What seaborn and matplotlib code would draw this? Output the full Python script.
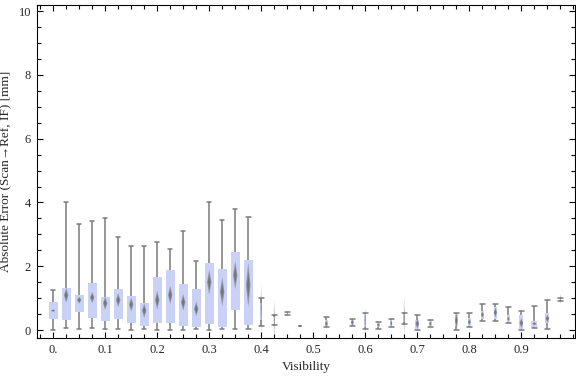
import numpy as np
import matplotlib
matplotlib.use("Agg")
import matplotlib.pyplot as plt
import seaborn as sns
from matplotlib.ticker import MultipleLocator, FixedLocator

# one entry per visibility bin (bins that show a box)
visibility = [0.0, 0.025, 0.05, 0.075, 0.1, 0.125, 0.15, 0.175, 0.2, 0.225,
              0.25, 0.275, 0.3, 0.325, 0.35, 0.375, 0.4, 0.425, 0.45, 0.475,
              0.525, 0.575, 0.6, 0.625, 0.65, 0.675, 0.7, 0.725, 0.775, 0.8,
              0.825, 0.85, 0.875, 0.9, 0.925, 0.95, 0.975]
w_low = [0.0, 0.05, 0.02, 0.05, 0.02, 0.02, 0.0, 0.02, 0.0, 0.0,
         0.0, 0.02, 0.0, 0.02, 0.02, 0.02, 0.12, 0.15, 0.48, 0.125,
         0.08, 0.13, 0.02, 0.03, 0.08, 0.19, 0.0, 0.10, 0.0, 0.08,
         0.27, 0.27, 0.21, 0.0, 0.06, 0.04, 0.91]
q_low = [0.36, 0.32, 0.57, 0.39, 0.29, 0.36, 0.23, 0.14, 0.23, 0.23,
         0.14, 0.08, 0.20, 0.10, 0.64, 0.17, 0.30, 0.20, 0.51, 0.125,
         0.08, 0.15, 0.10, 0.08, 0.10, 0.25, 0.0, 0.10, 0.13, 0.12,
         0.35, 0.35, 0.24, 0.04, 0.10, 0.21, 0.93]
median = [0.61, 1.09, 0.94, 1.02, 0.84, 0.94, 0.80, 0.61, 0.94, 1.10,
          0.87, 0.66, 1.50, 1.20, 1.72, 1.41, 0.68, 0.31, 0.53, 0.125,
          0.20, 0.24, 0.31, 0.16, 0.21, 0.40, 0.20, 0.20, 0.30, 0.25,
          0.48, 0.55, 0.35, 0.22, 0.20, 0.36, 0.97]
q_high = [0.88, 1.32, 1.10, 1.47, 1.03, 1.28, 1.07, 0.85, 1.66, 1.88,
          1.44, 1.28, 2.10, 1.91, 2.45, 2.19, 0.85, 0.40, 0.55, 0.125,
          0.33, 0.33, 0.50, 0.24, 0.32, 0.50, 0.31, 0.31, 0.49, 0.37,
          0.61, 0.73, 0.47, 0.46, 0.27, 0.55, 0.99]
w_high = [1.24, 4.02, 3.34, 3.41, 3.50, 2.91, 2.65, 2.62, 2.75, 2.55,
          3.12, 2.15, 4.02, 3.44, 3.81, 3.53, 0.99, 0.46, 0.57, 0.125,
          0.42, 0.34, 0.55, 0.24, 0.34, 0.52, 0.46, 0.31, 0.52, 0.52,
          0.82, 0.82, 0.71, 0.61, 0.74, 0.93, 1.00]
mean = median
mean_ci = [0.04, 0.23, 0.11, 0.18, 0.21, 0.22, 0.22, 0.23, 0.30, 0.29,
           0.26, 0.23, 0.39, 0.46, 0.44, 0.70, 0.78, 0.68, 0.10, 0.03,
           0.10, 0.10, 0.39, 0.06, 0.10, 0.60, 0.15, 0.08, 0.25, 0.10,
           0.10, 0.15, 0.08, 0.15, 0.05, 0.12, 0.18]
counts = [40, 40, 40, 40, 40, 40, 40, 40, 40, 40,
          40, 40, 40, 40, 40, 40, 6, 5, 3, 7,
          10, 10, 6, 10, 7, 6, 13, 8, 10, 10,
          10, 12, 8, 13, 20, 13, 5]

sns.set_style("ticks")
plt.rcParams['font.family'] = ['Liberation Serif', 'DejaVu Serif']

fig = plt.figure(figsize=(5.76, 3.77), dpi=100)
ax = fig.add_axes([0.0634, 0.1034, 0.9357, 0.8841])

px = 1 / 520.0   # visibility units per pixel
box_col = "#cad1f6"
line_col = "#7b7b7b"

for v, lo, a, m, b, hi, mu, c, n in zip(visibility, w_low, q_low, median, q_high,
                                        w_high, mean, mean_ci, counts):
    w = 9 * px * min(n, 30) / 30
    cw = 4.5 * px if hi > lo else 2 * px
    sns.boxplot(x=[v] * 5, y=[lo, a, m, b, hi], orient="x", native_scale=True,
                width=w, whis=np.inf, ax=ax, capwidths=cw,
                boxprops={'facecolor': box_col, 'edgecolor': 'none', 'linewidth': 0},
                whiskerprops={'color': line_col, 'linewidth': 1.1},
                capprops={'color': line_col, 'linewidth': 1.1},
                medianprops={'linewidth': 0})
    # mean diamond
    dw = min(w, 4.5 * px)
    alpha = 0.5 if n <= 6 else 1.0
    for k, al in [(1.0, 0.55), (0.6, 0.75)]:
        ax.fill([v - k * dw / 2, v, v + k * dw / 2, v],
                [mu, mu + k * c, mu, mu - k * c],
                color="#6a6a6a", alpha=al * alpha, lw=0, zorder=4)

ax.set_xlim(-0.032, 1.004)
ax.set_ylim(-0.25, 10.2)

ax.xaxis.set_major_locator(FixedLocator([0.0, 0.1, 0.2, 0.3, 0.4, 0.5, 0.6, 0.7, 0.8, 0.9]))
ax.set_xticklabels(["0.", "0.1", "0.2", "0.3", "0.4", "0.5", "0.6", "0.7", "0.8", "0.9"])
ax.xaxis.set_minor_locator(MultipleLocator(0.025))
ax.yaxis.set_major_locator(MultipleLocator(2))
ax.yaxis.set_minor_locator(MultipleLocator(0.5))
ax.tick_params(which='both', direction='in', top=True, right=True,
               length=4, width=0.8, color='black', labelsize=9, pad=4)
ax.tick_params(which='minor', length=3)

for s in ax.spines.values():
    s.set_color('black')
    s.set_linewidth(0.8)

ax.set_xlabel("Visibility", fontsize=9.5, labelpad=4)
ax.set_ylabel("Absolute Error (Scan\u2192Ref, IF) [mm]", fontsize=9.5, labelpad=5)

fig.savefig("out.png", dpi=100)
